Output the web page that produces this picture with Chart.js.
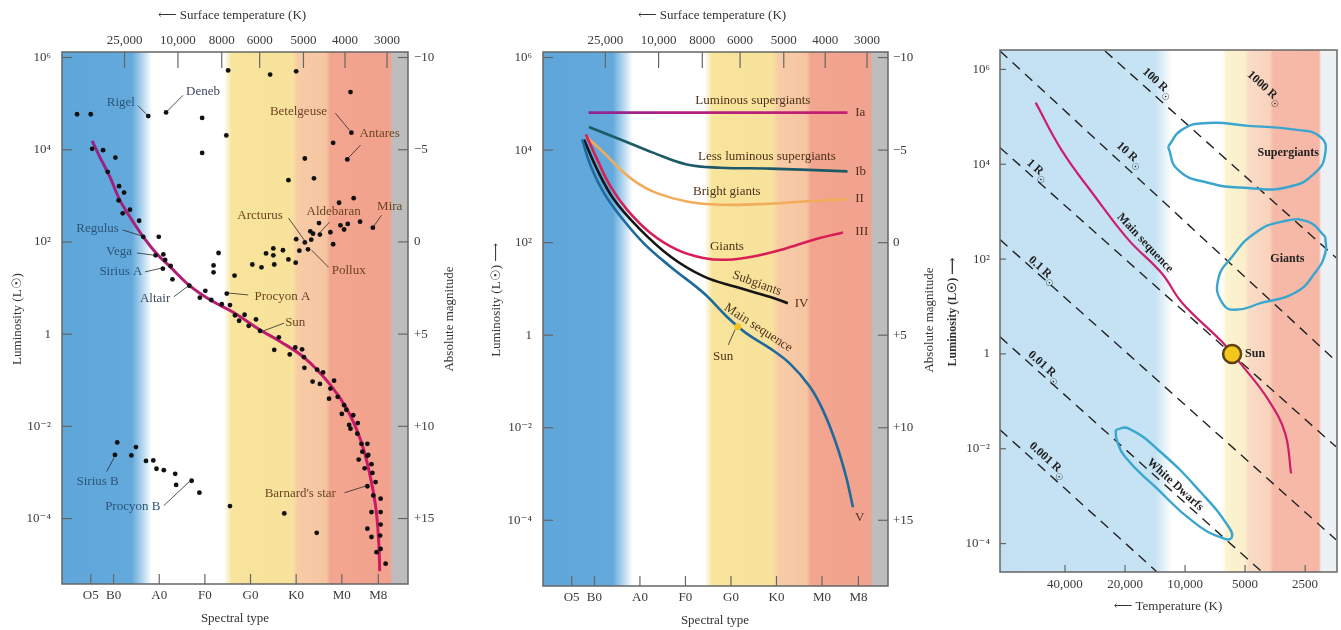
<!DOCTYPE html>
<html>
<head>
<meta charset="utf-8">
<script src="https://cdn.jsdelivr.net/npm/chart.js@4.4.1/dist/chart.umd.min.js"></script>
<style>
  body { margin: 0; background: #fff; width: 1341px; height: 630px; position: relative; overflow: hidden; }
  canvas { position: absolute; top: 0; }
</style>
</head>
<body>
<canvas id="hrStars" width="470" height="630" style="left:0"></canvas>
<canvas id="hrClasses" width="470" height="630" style="left:470px"></canvas>
<canvas id="hrRadius" width="401" height="630" style="left:940px"></canvas>
<script>
// spectral position: O0 = 0, one class = 10 units; luminosity values are log10(L / Lsun)
const SPECTRAL_TICKS = [5, 10, 20, 30, 40, 50, 60, 68];
const SPECTRAL_LABELS = ['O5', 'B0', 'A0', 'F0', 'G0', 'K0', 'M0', 'M8'];
const SURFACE_TEMP_TICKS = [12.4, 24.1, 33.7, 42.0, 51.6, 60.7, 69.9];
const SURFACE_TEMP_LABELS = ['25,000', '10,000', '8000', '6000', '5000', '4000', '3000'];
const LUM_TICKS = [6, 4, 2, 0, -2, -4];
const LUM_LABELS = ['10⁶', '10⁴', '10²', '1', '10⁻²', '10⁻⁴'];
const MAG_LABELS = ['−10', '−5', '0', '+5', '+10', '+15'];
const TEMP_TICKS = [40000, 20000, 10000, 5000, 2500];
const TEMP_LABELS = ['40,000', '20,000', '10,000', '5000', '2500'];

// left panel: individual stars [spectral, logL]
const SUPERGIANT_STARS = [[2.0, 4.77], [5.0, 4.77], [17.6, 4.73], [21.5, 4.81], [29.4, 4.69], [35.1, 5.72], [44.3, 5.63],
  [50.0, 5.70], [61.9, 5.25], [62.1, 4.37], [34.7, 4.31], [29.4, 3.93], [58.1, 4.15], [61.2, 3.79], [51.9, 3.81],
  [48.3, 3.34], [53.9, 3.38], [59.4, 2.85], [62.6, 2.95]];
const GIANT_STARS = [[33.0, 1.76], [31.9, 1.49], [31.9, 1.34], [36.5, 1.27], [43.4, 1.75], [45.0, 1.86], [45.0, 1.71],
  [47.1, 1.82], [40.4, 1.51], [42.4, 1.45], [45.2, 1.51], [48.3, 1.62], [49.9, 1.55], [50.0, 2.06], [51.9, 1.99],
  [53.3, 2.05], [52.6, 1.84], [50.7, 1.81], [53.7, 2.18], [55.2, 2.16], [55.0, 2.41], [53.1, 2.23], [57.5, 2.21],
  [58.1, 1.95], [59.7, 2.36], [60.5, 2.27], [61.3, 2.39], [64.0, 2.44], [66.8, 2.31]];
const MAIN_SEQ_STARS = [[5.3, 4.02], [7.7, 3.99], [10.4, 3.83], [8.7, 3.52], [11.2, 3.21], [12.3, 3.07], [11.1, 2.90],
  [13.6, 2.70], [12.0, 2.62], [15.6, 2.46], [16.5, 2.11], [19.9, 2.11], [19.2, 1.71], [20.9, 1.73], [21.3, 1.61],
  [20.8, 1.42], [22.5, 1.48], [22.9, 1.19], [26.6, 1.05], [28.9, 0.79], [30.1, 0.94], [31.4, 0.74], [34.8, 0.88],
  [33.7, 0.65], [35.5, 0.63], [36.6, 0.41], [37.5, 0.29], [38.7, 0.42], [39.6, 0.18], [41.2, 0.32], [42.1, 0.07],
  [46.2, -0.07], [45.2, -0.34], [48.6, -0.44], [49.8, -0.29], [51.3, -0.33], [51.7, -0.50], [51.8, -0.73],
  [54.6, -0.77], [55.9, -0.83], [53.6, -1.03], [55.2, -1.08], [58.3, -1.01], [57.5, -1.18], [57.2, -1.40],
  [59.1, -1.36], [60.5, -1.54], [61.0, -1.64], [60.0, -1.73], [62.5, -1.76], [61.6, -1.97], [63.5, -1.93],
  [61.9, -2.05], [63.4, -2.16], [64.3, -2.38], [65.6, -2.38], [64.5, -2.55], [65.6, -2.64], [65.8, -2.62],
  [63.7, -2.72], [65.0, -2.91], [66.5, -2.82], [66.7, -3.01], [67.4, -3.21], [65.6, -3.30], [66.9, -3.50],
  [68.5, -3.57], [66.5, -3.86], [68.5, -3.86], [65.6, -4.22], [68.5, -4.13], [66.5, -4.40], [68.4, -4.37],
  [68.5, -4.66], [67.6, -4.73], [69.6, -4.98]];
const DWARF_STARS = [[10.8, -2.35], [10.3, -2.62], [14.9, -2.45], [13.9, -2.63], [17.1, -2.75], [18.7, -2.74],
  [19.4, -2.92], [21.0, -2.95], [23.5, -3.03], [23.7, -3.27], [27.1, -3.18], [28.8, -3.44], [35.5, -3.73],
  [47.4, -3.89], [54.5, -4.31]];
const MAIN_SEQ_CURVE = [[5.3, 4.19], [7.0, 3.84], [9.2, 3.41], [11.4, 2.90], [13.6, 2.54], [16.5, 2.11], [19.4, 1.75],
  [22.4, 1.46], [26.8, 1.04], [31.2, 0.74], [36.3, 0.47], [42.1, 0.09], [46.5, -0.16], [51.9, -0.52], [57.5, -1.10],
  [61.2, -1.64], [64.1, -2.29], [65.9, -2.94], [67.4, -3.73], [68.1, -4.53], [68.3, -5.14]];

// middle panel: luminosity classes
const CLASS_IA = [[8.7, 4.81], [37.0, 4.81], [65.6, 4.81]];
const CLASS_IB = [[8.8, 4.50], [15.7, 4.23], [23.0, 3.94], [30.3, 3.69], [37.6, 3.62], [48.5, 3.60], [65.6, 3.54]];
const CLASS_II = [[8.1, 4.30], [12.1, 3.94], [15.7, 3.58], [19.4, 3.29], [23.7, 3.07], [30.3, 2.89], [37.6, 2.82],
  [48.5, 2.84], [55.8, 2.89], [65.6, 2.94]];
const CLASS_III = [[8.1, 4.34], [10.6, 3.80], [13.5, 3.22], [17.2, 2.71], [22.3, 2.21], [28.1, 1.85], [33.9, 1.67],
  [39.1, 1.63], [44.9, 1.70], [52.2, 1.88], [59.5, 2.10], [64.6, 2.22]];
const CLASS_IV = [[7.7, 4.23], [10.6, 3.58], [14.3, 2.93], [19.4, 2.35], [26.7, 1.70], [34.0, 1.27], [41.2, 1.04],
  [48.5, 0.83], [52.5, 0.69]];
const CLASS_V = [[7.3, 4.23], [9.2, 3.65], [12.1, 3.07], [15.7, 2.57], [20.8, 1.99], [26.7, 1.48], [34.0, 0.91],
  [39.1, 0.40], [43.4, 0.04], [48.5, -0.28], [52.9, -0.61], [57.3, -1.11], [60.2, -1.62], [63.1, -2.34],
  [65.3, -3.06], [66.8, -3.72]];
const SUN_CLASS = [[41.5, 0.18]];

// right panel: [temperature K, logL]
const RADIUS_LINES = {
  '100': [[25200, 6.39], [1749, 2.03]],
  '10': [[84700, 6.39], [1749, -0.15]],
  '1': [[84700, 4.35], [1749, -1.96]],
  '0.1': [[84700, 2.41], [1749, -3.92]],
  '0.01': [[84700, 0.36], [4110, -4.60]],
  '0.001': [[84700, -1.60], [13820, -4.60]],
};
const MAIN_SEQ_TEMP = [[56100, 5.30], [41600, 4.30], [28300, 3.32], [19250, 2.41], [13090, 1.70], [10350, 1.08],
  [6540, 0.26], [5810, 0.0], [5200, -0.23], [3820, -0.97], [3150, -1.67], [2940, -2.52]];
const SUPERGIANT_REGION = [[12170, 4.37], [10350, 4.73], [7670, 4.87], [4830, 4.81], [2810, 4.73], [2100, 4.58],
  [1980, 4.24], [2230, 3.82], [3040, 3.52], [4830, 3.50], [7670, 3.61], [10840, 3.88]];
const GIANT_REGION = [[1980, 2.47], [2420, 2.79], [3260, 2.79], [4450, 2.55], [5810, 2.05], [6830, 1.56],
  [6520, 1.08], [5610, 0.93], [4110, 1.08], [2810, 1.29], [2230, 1.71], [1980, 2.13]];
const DWARF_REGION = [[22270, -1.60], [19250, -1.57], [13090, -2.09], [8250, -2.94], [6060, -3.64], [5830, -3.87],
  [6420, -3.89], [8910, -3.57], [14140, -2.80], [20000, -2.17], [22000, -1.81]];
const SUN_TEMP = [[5810, 0.0]];

const SERIF = '"Liberation Serif", "DejaVu Serif", serif';
Chart.defaults.font.family = SERIF;
Chart.defaults.color = '#333';

const BLUE_TEXT = '#2b5577';
const BROWN_TEXT = '#6b4522';

const STAR_LABELS = [
  { text: 'Rigel', at: [11.6, 5.03], lead: [[15.3, 4.96], [17.5, 4.74]], color: BLUE_TEXT },
  { text: 'Deneb', at: [29.6, 5.26], lead: [[25.2, 5.18], [21.7, 4.83]], color: '#3a4660' },
  { text: 'Betelgeuse', at: [50.5, 4.83], lead: [[58.6, 4.79], [61.7, 4.42]] },
  { text: 'Antares', at: [68.3, 4.35], lead: [[64.1, 4.10], [61.3, 3.81]] },
  { text: 'Arcturus', at: [42.1, 2.58], lead: [[48.3, 2.52], [52.3, 1.97]] },
  { text: 'Aldebaran', at: [58.2, 2.65], lead: [[57.3, 2.43], [54.9, 2.17]] },
  { text: 'Mira', at: [70.5, 2.77], lead: [[68.7, 2.58], [67.0, 2.34]] },
  { text: 'Pollux', at: [61.5, 1.37], lead: [[57.1, 1.45], [53.4, 1.82]] },
  { text: 'Regulus', at: [6.5, 2.28], lead: [[12.0, 2.26], [16.2, 2.13]], color: BLUE_TEXT },
  { text: 'Vega', at: [11.2, 1.78], lead: [[15.1, 1.76], [19.1, 1.71]], color: BLUE_TEXT },
  { text: 'Sirius A', at: [11.6, 1.35], lead: [[16.9, 1.35], [20.4, 1.43]], color: BLUE_TEXT },
  { text: 'Altair', at: [19.1, 0.78], lead: [[23.2, 0.81], [26.3, 1.04]], color: '#3c4a5c' },
  { text: 'Procyon A', at: [47.0, 0.81], lead: [[39.5, 0.85], [35.3, 0.89]] },
  { text: 'Sun', at: [49.8, 0.26], lead: [[47.4, 0.24], [42.8, 0.07]] },
  { text: 'Sirius B', at: [6.5, -3.20], lead: [[8.5, -2.98], [10.1, -2.68]], color: BLUE_TEXT },
  { text: 'Procyon B', at: [14.2, -3.74], lead: [[21.0, -3.72], [26.8, -3.18]], color: BLUE_TEXT },
  { text: "Barnard's star", at: [50.9, -3.46], lead: [[60.6, -3.44], [65.4, -3.29]] },
];

const CLASS_LABELS = [
  { text: 'Luminous supergiants', at: [44.8, 5.07] },
  { text: 'Ia', at: [67.3, 4.81], align: 'left' },
  { text: 'Less luminous supergiants', at: [47.9, 3.86] },
  { text: 'Ib', at: [67.3, 3.53], align: 'left' },
  { text: 'Bright giants', at: [39.1, 3.10] },
  { text: 'II', at: [67.3, 2.96], align: 'left' },
  { text: 'Giants', at: [39.1, 1.91] },
  { text: 'III', at: [67.3, 2.24], align: 'left' },
  { text: 'Subgiants', at: [45.7, 1.12], rot: 20 },
  { text: 'IV', at: [54.0, 0.69], align: 'left' },
  { text: 'Main sequence', at: [46.0, 0.16], rot: 33 },
  { text: 'V', at: [68.3, -3.94] },
  { text: 'Sun', at: [38.3, -0.47], lead: [[39.4, -0.21], [40.9, 0.12]] },
];

const RADIUS_FONT = 'bold 12px ' + SERIF;
const REGION_LABELS = [
  { text: 'Supergiants', at: [3040, 4.24], font: RADIUS_FONT },
  { text: 'Giants', at: [3070, 2.0], font: RADIUS_FONT },
  { text: 'Sun', at: [5000, 0.0], align: 'left', font: RADIUS_FONT },
  { text: 'Main sequence', at: [15870, 2.34], rot: 47, font: RADIUS_FONT },
  { text: 'White Dwarfs', at: [11220, -2.76], rot: 42, font: RADIUS_FONT },
  { text: '1000 R', sub: '☉', at: [3970, 5.61], rot: 42, font: RADIUS_FONT },
  { text: '100 R', sub: '☉', at: [13660, 5.72], rot: 42, font: RADIUS_FONT },
  { text: '10 R', sub: '☉', at: [18890, 4.20], rot: 42, font: RADIUS_FONT },
  { text: '1 R', sub: '☉', at: [54700, 3.88], rot: 42, font: RADIUS_FONT },
  { text: '0.1 R', sub: '☉', at: [51600, 1.77], rot: 42, font: RADIUS_FONT },
  { text: '0.01 R', sub: '☉', at: [50500, -0.27], rot: 42, font: RADIUS_FONT },
  { text: '0.001 R', sub: '☉', at: [48600, -2.24], rot: 42, font: RADIUS_FONT },
];

const SPECTRAL_BANDS = [[-1.5, '#5fa6da'], [14.0, '#63a9dc'], [16.3, '#b3d6ee'], [18.4, '#ffffff'], [34.2, '#ffffff'],
  [35.9, '#f8e49b'], [49.2, '#f8e29c'], [50.3, '#f7cca6'], [56.6, '#f6c5a1'], [57.5, '#f2a58f'], [70.8, '#f2a28e'],
  [70.95, '#bdbdbd'], [75, '#bdbdbd']];
const TEMP_BANDS = [[84700, '#c3e1f3'], [14100, '#c6e3f4'], [11600, '#ffffff'], [6500, '#ffffff'], [6200, '#fcf3cf'],
  [5000, '#fbefcc'], [4800, '#fadcc6'], [3750, '#f9d2bc'], [3620, '#f6b9a8'], [2130, '#f6b7a6'], [2080, '#eef1f4'],
  [1730, '#eef1f4']];

const toPoints = arr => arr.map(([x, y]) => ({ x, y }));
const closeLoop = arr => toPoints(arr.concat([arr[0]]));

const hrDecor = {
  id: 'hrDecor',
  beforeDraw(chart, args, opts) {
    const { ctx, chartArea: a, scales } = chart;
    const g = ctx.createLinearGradient(a.left, 0, a.right, 0);
    opts.bands
      .map(([v, c]) => [(scales.x.getPixelForValue(v) - a.left) / a.width, c])
      .sort((p, q) => p[0] - q[0])
      .forEach(([f, c]) => g.addColorStop(Math.min(1, Math.max(0, f)), c));
    ctx.save();
    ctx.fillStyle = g;
    ctx.fillRect(a.left, a.top, a.width, a.height);
    ctx.restore();
  },
  afterDatasetsDraw(chart, args, opts) {
    const { ctx, scales: { x, y } } = chart;
    const px = v => x.getPixelForValue(v[0]);
    const py = v => y.getPixelForValue(v[1]);
    ctx.save();
    opts.labels.forEach(l => {
      if (l.lead) {
        ctx.beginPath();
        ctx.moveTo(px(l.lead[0]), py(l.lead[0]));
        ctx.lineTo(px(l.lead[1]), py(l.lead[1]));
        ctx.strokeStyle = '#2a2a2a';
        ctx.lineWidth = 0.8;
        ctx.stroke();
      }
      ctx.save();
      ctx.translate(px(l.at), py(l.at));
      ctx.rotate((l.rot || 0) * Math.PI / 180);
      ctx.font = l.font || opts.font;
      ctx.fillStyle = l.color || opts.color;
      ctx.textBaseline = 'middle';
      if (l.sub) {
        const w = ctx.measureText(l.text).width;
        ctx.font = '9px "DejaVu Sans"';
        const sw = ctx.measureText(l.sub).width;
        ctx.textAlign = 'left';
        ctx.fillText(l.sub, -(w + sw) / 2 + w, 6);
        ctx.font = l.font || opts.font;
        ctx.fillText(l.text, -(w + sw) / 2, 0);
      } else {
        ctx.textAlign = l.align || 'center';
        ctx.fillText(l.text, 0, 0);
      }
      ctx.restore();
    });
    ctx.restore();
  },
  afterDraw(chart, args, opts) {
    const { ctx, chartArea: a } = chart;
    ctx.save();
    ctx.strokeStyle = '#666';
    ctx.lineWidth = 1.5;
    ctx.strokeRect(a.left, a.top, a.width, a.height);
    ctx.lineWidth = 1.2;
    Object.entries(opts.tickLen).forEach(([id, len]) => {
      const s = chart.scales[id];
      s.ticks.forEach(t => {
        const p = s.getPixelForValue(t.value);
        ctx.beginPath();
        if (s.position === 'left') { ctx.moveTo(a.left, p); ctx.lineTo(a.left + len, p); }
        if (s.position === 'right') { ctx.moveTo(a.right - len, p); ctx.lineTo(a.right, p); }
        if (s.position === 'top') { ctx.moveTo(p, a.top); ctx.lineTo(p, a.top + len); }
        if (s.position === 'bottom') { ctx.moveTo(p, a.bottom - len); ctx.lineTo(p, a.bottom); }
        ctx.stroke();
      });
    });
    ctx.fillStyle = '#333';
    ctx.textAlign = 'center';
    ctx.textBaseline = 'middle';
    opts.titles.forEach(t => {
      ctx.save();
      ctx.translate(t.x, t.y);
      ctx.rotate((t.rot || 0) * Math.PI / 180);
      ctx.font = t.font || '13px ' + SERIF;
      ctx.fillText(t.text, 0, 0);
      ctx.restore();
    });
    ctx.restore();
  },
};

function axis(position, size, ticks, labels, padding, range, extra) {
  return Object.assign({
    type: 'linear',
    position,
    min: range[0],
    max: range[1],
    afterFit: s => {
      if (s.isHorizontal()) s.height = size; else s.width = size;
      // keep the plot area fixed: no extra room for overhanging end labels
      s.paddingLeft = s.paddingRight = s.paddingTop = s.paddingBottom = 0;
    },
    afterBuildTicks: s => { s.ticks = ticks.map(value => ({ value })); },
    grid: { display: false, drawTicks: false },
    border: { display: false },
    ticks: { padding, autoSkip: false, maxRotation: 0, callback: (v, i) => labels[i], font: { size: 13 }, color: '#3a3a3a' },
  }, extra || {});
}

function baseOptions(sizes, scales, decor) {
  return {
    responsive: false,
    animation: false,
    events: [],
    layout: { padding: sizes.padding || 0, autoPadding: false },
    plugins: { legend: { display: false }, tooltip: { enabled: false }, hrDecor: decor },
    scales,
  };
}

function verticalGradient(stops) {
  return c => {
    const a = c.chart.chartArea;
    if (!a) return stops[0][1];
    const g = c.chart.ctx.createLinearGradient(0, a.top, 0, a.bottom);
    stops.forEach(([f, col]) => g.addColorStop(f, col));
    return g;
  };
}

function horizontalGradient(stops) {
  return c => {
    const a = c.chart.chartArea;
    if (!a) return stops[0][1];
    const g = c.chart.ctx.createLinearGradient(a.left, 0, a.right, 0);
    stops.forEach(([f, col]) => g.addColorStop(f, col));
    return g;
  };
}

const SPEC_RANGE = [-1.3, 74.5];
const LUM_RANGE = [-5.42, 6.12];

// left panel
new Chart(document.getElementById('hrStars'), {
  type: 'scatter',
  data: {
    datasets: [
      ...[SUPERGIANT_STARS, GIANT_STARS, MAIN_SEQ_STARS, DWARF_STARS].map(d => ({
        data: toPoints(d), pointRadius: 2.4, backgroundColor: '#111', borderWidth: 0,
      })),
      {
        data: toPoints(MAIN_SEQ_CURVE), showLine: true, tension: 0.4, pointRadius: 0, borderWidth: 3,
        borderColor: verticalGradient([[0, '#7b2a8e'], [0.35, '#a8207a'], [0.6, '#c41a6a'], [1, '#d41862']]),
      },
    ],
  },
  options: baseOptions({}, {
    x: axis('bottom', 46, SPECTRAL_TICKS, SPECTRAL_LABELS, 4, SPEC_RANGE),
    xTop: axis('top', 52, SURFACE_TEMP_TICKS, SURFACE_TEMP_LABELS, 4, SPEC_RANGE),
    y: axis('left', 62, LUM_TICKS, LUM_LABELS, 11, LUM_RANGE),
    yMag: axis('right', 62, LUM_TICKS, MAG_LABELS, 6, LUM_RANGE),
  }, {
    bands: SPECTRAL_BANDS,
    labels: STAR_LABELS,
    font: '13px ' + SERIF,
    color: BROWN_TEXT,
    tickLen: { x: 10, xTop: 16, y: 10, yMag: 10 },
    titles: [
      { text: '⟵ Surface temperature (K)', x: 232, y: 16 },
      { text: 'Luminosity (L☉)', x: 18, y: 319, rot: -90 },
      { text: 'Absolute magnitude', x: 450, y: 319, rot: -90 },
      { text: 'Spectral type', x: 235, y: 619 },
    ],
  }),
  plugins: [hrDecor],
});

// middle panel
const curve = (data, color, width) => ({
  data: toPoints(data), showLine: true, tension: 0.4, pointRadius: 0, borderWidth: width || 2.6, borderColor: color,
});
new Chart(document.getElementById('hrClasses'), {
  type: 'scatter',
  data: {
    datasets: [
      { data: toPoints(SUN_CLASS), pointRadius: 3.5, backgroundColor: '#f4c21c', borderWidth: 0 },
      curve(CLASS_V, '#1f6a9c'),
      curve(CLASS_IV, '#151515'),
      curve(CLASS_III, '#d81f55'),
      curve(CLASS_II, '#f2ac5a'),
      curve(CLASS_IB, '#1d5a68'),
      curve(CLASS_IA, horizontalGradient([[0, '#7a2a9c'], [0.4, '#b1207f'], [1, '#c8206e']])),
    ],
  },
  options: baseOptions({}, {
    x: axis('bottom', 44, SPECTRAL_TICKS, SPECTRAL_LABELS, 4, SPEC_RANGE),
    xTop: axis('top', 52, SURFACE_TEMP_TICKS, SURFACE_TEMP_LABELS, 4, SPEC_RANGE),
    y: axis('left', 73, LUM_TICKS, LUM_LABELS, 11, LUM_RANGE),
    yMag: axis('right', 52, LUM_TICKS, MAG_LABELS, 5, LUM_RANGE),
  }, {
    bands: SPECTRAL_BANDS,
    labels: CLASS_LABELS,
    font: '13px ' + SERIF,
    color: '#4e321c',
    tickLen: { x: 10, xTop: 16, y: 10, yMag: 10 },
    titles: [
      { text: '⟵ Surface temperature (K)', x: 242, y: 16 },
      { text: 'Luminosity (L☉) ⟶', x: 27, y: 300, rot: -90 },
      { text: 'Absolute magnitude', x: 460, y: 320, rot: -90 },
      { text: 'Spectral type', x: 245, y: 621 },
    ],
  }),
  plugins: [hrDecor],
});

// right panel
const dashed = pts => ({
  data: toPoints(pts), showLine: true, pointRadius: 0, borderWidth: 1.4, borderColor: '#222', borderDash: [10, 7],
});
const region = pts => ({
  data: closeLoop(pts), showLine: true, tension: 0.5, pointRadius: 0, borderWidth: 2.4, borderColor: '#3aa6d0',
});
new Chart(document.getElementById('hrRadius'), {
  type: 'scatter',
  data: {
    datasets: [
      { data: toPoints(SUN_TEMP), pointRadius: 9, backgroundColor: '#f4c71c', borderColor: '#5c4016', borderWidth: 2.5 },
      { data: toPoints(MAIN_SEQ_TEMP), showLine: true, tension: 0.4, pointRadius: 0, borderWidth: 2.2, borderColor: '#cc1f6c' },
      region(SUPERGIANT_REGION),
      region(GIANT_REGION),
      region(DWARF_REGION),
      ...Object.values(RADIUS_LINES).map(dashed),
    ],
  },
  options: baseOptions({ padding: { top: 50, right: 4 } }, {
    x: axis('bottom', 58, TEMP_TICKS, TEMP_LABELS, 5, [1730, 84700], { type: 'logarithmic', reverse: true }),
    y: axis('left', 60, LUM_TICKS, LUM_LABELS, 10, [-4.60, 6.41]),
  }, {
    bands: TEMP_BANDS,
    labels: REGION_LABELS,
    font: RADIUS_FONT,
    color: '#222',
    tickLen: { x: 7, y: 6 },
    titles: [
      { text: 'Luminosity (L☉) ⟶', x: 13, y: 312, rot: -90, font: 'bold 12px ' + SERIF },
      { text: '⟵ Temperature (K)', x: 228, y: 607 },
    ],
  }),
  plugins: [hrDecor],
});
</script>
</body>
</html>
